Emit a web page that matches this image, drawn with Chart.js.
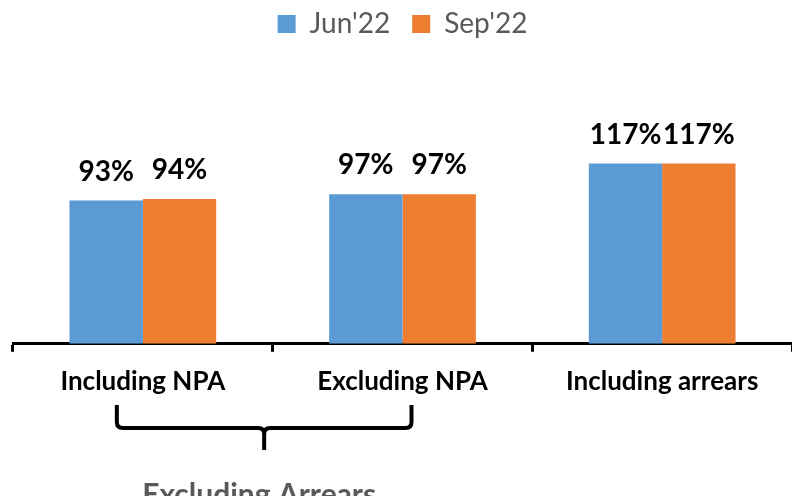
<!DOCTYPE html>
<html>
<head>
<meta charset="utf-8">
<script src="https://cdn.jsdelivr.net/npm/chart.js@4/dist/chart.umd.min.js"></script>
<style>
  html, body { margin: 0; padding: 0; background: #fff; overflow: hidden; }
</style>
</head>
<body>
<canvas id="chart" width="792" height="496"></canvas>
<script>
const categories = ["Including NPA", "Excluding NPA", "Including arrears"];
const seriesNames = ["Jun'22", "Sep'22"];
const jun22 = [93, 97, 117];
const sep22 = [94, 97, 117];
const groupLabel = "Excluding Arrears";

const ctx = document.querySelector("#chart").getContext("2d");
const FONT = "Lato, 'Open Sans', sans-serif";

// value labels above each bar
const barLabels = {
  id: "barLabels",
  afterDatasetsDraw(chart) {
    const c = chart.ctx;
    c.save();
    c.font = "bold 28px " + FONT;
    c.fillStyle = "#000";
    c.textAlign = "center";
    c.textBaseline = "alphabetic";
    chart.data.datasets.forEach((ds, di) => {
      chart.getDatasetMeta(di).data.forEach((bar, i) => {
        c.fillText(ds.data[i] + "%", bar.x, bar.y - 20);
      });
    });
    c.restore();
  },
};

// brace under the first two categories
const brace = {
  id: "brace",
  afterDraw(chart) {
    const x = chart.scales.x;
    const c = chart.ctx;
    const x0 = x.getPixelForValue(0) - 26;
    const x1 = x.getPixelForValue(1) + 9;
    const mid = (x0 + x1) / 2;
    const top = 405, yb = 428, tip = 450, r = 6;
    c.save();
    c.strokeStyle = "#000";
    c.lineWidth = 4;
    c.beginPath();
    c.moveTo(x0, top);
    c.lineTo(x0, yb - r);
    c.quadraticCurveTo(x0, yb, x0 + r, yb);
    c.lineTo(mid - r, yb);
    c.quadraticCurveTo(mid, yb, mid, yb + r);
    c.lineTo(mid, tip);
    c.moveTo(mid, yb + r);
    c.quadraticCurveTo(mid, yb, mid + r, yb);
    c.lineTo(x1 - r, yb);
    c.quadraticCurveTo(x1, yb, x1, yb - r);
    c.lineTo(x1, top);
    c.stroke();
    c.font = "bold 30px " + FONT;
    c.fillStyle = "#595959";
    c.textAlign = "center";
    c.fillText(groupLabel, mid - 5, 495);
    c.restore();
  },
};

new Chart(ctx, {
  type: "bar",
  data: {
    labels: categories,
    datasets: [
      { label: seriesNames[0], data: jun22, backgroundColor: "#5B9BD5" },
      { label: seriesNames[1], data: sep22, backgroundColor: "#ED7D31" },
    ],
  },
  options: {
    responsive: false,
    animation: false,
    devicePixelRatio: 1,
    layout: { padding: { left: 13, right: 0, top: -12, bottom: 85 } },
    datasets: { bar: { categoryPercentage: 0.565, barPercentage: 1 } },
    plugins: {
      legend: {
        position: "top",
        labels: {
          font: { family: FONT, size: 28 },
          color: "#595959",
          boxWidth: 18,
          boxHeight: 18,
          padding: 22,
        },
      },
      tooltip: { enabled: false },
    },
    scales: {
      x: {
        border: { color: "#000", width: 3 },
        grid: {
          offset: true,
          drawOnChartArea: false,
          color: "#000",
          lineWidth: 3,
          tickLength: 8,
        },
        ticks: {
          color: "#000",
          font: { family: FONT, size: 26, weight: "bold" },
          padding: 14,
          maxRotation: 0,
        },
      },
      y: { display: false, min: 0, max: 192 },
    },
  },
  plugins: [barLabels, brace],
});
</script>
</body>
</html>
